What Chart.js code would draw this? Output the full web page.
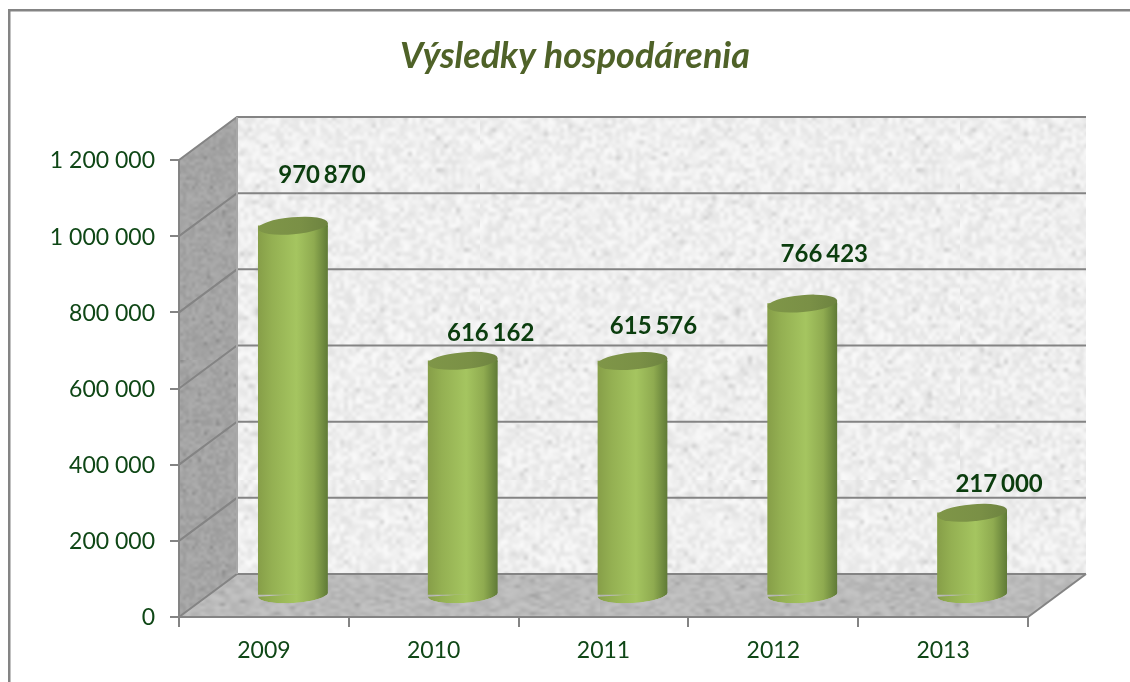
<!DOCTYPE html>
<html><head><meta charset="utf-8">
<style>html,body{margin:0;padding:0;background:#fff}canvas{display:block}</style>
<script src="https://cdn.jsdelivr.net/npm/chart.js@4"></script>
</head><body><canvas id="c" width="1130" height="682"></canvas>
<script>
const categories = ['2009','2010','2011','2012','2013'];
const profit = [970870,616162,615576,766423,217000];
const valueLabels = ['970 870','616 162','615 576','766 423','217 000'];
const yMax = 1200000;
const yStep = 200000;
const chartTitle = 'Výsledky hospodárenia';

const DEPTH_X = 58, DEPTH_Y = -43;      // 3-D depth of the plot box
const GREY = '#848484', INK = '#0f4716';
const labelNudge = [[29,-50],[28,-28],[21,-35],[22,-49],[27,-29]];
const TOP_TILT = -5*Math.PI/180, FOOT_TILT = -3.5*Math.PI/180, CAP_RY = 8.5;

// deterministic granite texture
function texture(base, amp, sx, sy, seed){
  let s = seed;
  const rnd = () => (s = (s*1664525 + 1013904223) >>> 0) / 4294967296;
  const w = 120, h = 120;
  const small = document.createElement('canvas'); small.width = w; small.height = h;
  const g = small.getContext('2d'), img = g.createImageData(w,h);
  for(let i=0;i<w*h;i++){
    let v = base + (rnd()-0.5)*amp;
    if(rnd()<0.03) v -= amp*0.9;
    img.data[i*4]=img.data[i*4+1]=img.data[i*4+2]=v; img.data[i*4+3]=255;
  }
  g.putImageData(img,0,0);
  const big = document.createElement('canvas'); big.width = w*sx; big.height = h*sy;
  const b = big.getContext('2d'); b.imageSmoothingEnabled = true; b.imageSmoothingQuality='high';
  b.drawImage(small,0,0,big.width,big.height);
  return big;
}

const box3d = {
  id:'box3d',
  afterLayout(chart){ chart.titleBlock.left += 61; chart.titleBlock.right += 61; },
  beforeDraw(chart){
    const ctx = chart.ctx, a = chart.chartArea, ys = chart.scales.y;
    ctx.save();
    ctx.fillStyle='#fff'; ctx.fillRect(0,0,chart.width,chart.height);
    ctx.fillStyle=GREY;
    ctx.fillRect(8,9,1122,2.5); ctx.fillRect(8,9,2.5,673);

    const L=a.left,R=a.right,T=a.top,B=a.bottom,dx=DEPTH_X,dy=DEPTH_Y;
    // back wall
    ctx.fillStyle = ctx.createPattern(texture(238,22,4,4,7),'repeat');
    ctx.fillRect(L+dx,T+dy,R-L,B-T);
    // side wall
    ctx.fillStyle = ctx.createPattern(texture(164,18,3,3,11),'repeat');
    ctx.beginPath();ctx.moveTo(L,T);ctx.lineTo(L+dx,T+dy);ctx.lineTo(L+dx,B+dy);ctx.lineTo(L,B);ctx.closePath();ctx.fill();
    // floor
    ctx.fillStyle = ctx.createPattern(texture(186,20,5,3,23),'repeat');
    ctx.beginPath();ctx.moveTo(L,B);ctx.lineTo(R,B);ctx.lineTo(R+dx,B+dy);ctx.lineTo(L+dx,B+dy);ctx.closePath();ctx.fill();

    // gridlines
    ctx.strokeStyle=GREY; ctx.lineWidth=2;
    ys.ticks.forEach(t=>{
      const y=ys.getPixelForValue(t.value);
      ctx.beginPath();ctx.moveTo(L,y);ctx.lineTo(L+dx,y+dy);ctx.lineTo(R+dx,y+dy);ctx.stroke();
    });
    ctx.beginPath();ctx.moveTo(R,B);ctx.lineTo(R+dx,B+dy);ctx.stroke();
    ctx.strokeStyle='#a8a8a8';
    ctx.beginPath();ctx.moveTo(L+dx,T+dy);ctx.lineTo(L+dx,B+dy);ctx.stroke();
    ctx.restore();
  },
  beforeDatasetDraw(chart,args){
    const ctx=chart.ctx;
    ctx.save();
    ctx.translate(DEPTH_X/2,DEPTH_Y/2);
    // trim each bar's square foot so it follows the tilted ellipse
    ctx.beginPath();
    args.meta.data.forEach(el=>{
      const w=el.width/2;
      ctx.moveTo(el.x-w,0);ctx.lineTo(el.x+w,0);
      ctx.ellipse(el.x,el.base,w,CAP_RY,FOOT_TILT,0,Math.PI);
      ctx.closePath();
    });
    ctx.clip();
  },
  afterDatasetDraw(chart,args){
    const ctx=chart.ctx, meta=args.meta;
    meta.data.forEach(el=>{
      const w=el.width/2, rise=w*Math.sin(-TOP_TILT);
      ctx.fillStyle=el.options.backgroundColor;
      // rounded foot
      ctx.beginPath();ctx.ellipse(el.x,el.base,w,CAP_RY,FOOT_TILT,0,Math.PI);ctx.fill();
      // body reaches the raised right end of the cap
      ctx.beginPath();ctx.moveTo(el.x,el.y);ctx.lineTo(el.x+w,el.y-rise);ctx.lineTo(el.x+w,el.y+1);ctx.closePath();ctx.fill();
      // top cap
      const g=ctx.createLinearGradient(el.x-w,0,el.x+w,0);
      g.addColorStop(0,'#7f9648');g.addColorStop(0.6,'#7a9046');g.addColorStop(1,'#6d8340');
      ctx.fillStyle=g;
      ctx.beginPath();ctx.ellipse(el.x,el.y,w,CAP_RY,TOP_TILT,0,Math.PI*2);ctx.fill();
    });
    ctx.restore();
  },
  afterDatasetsDraw(chart){
    const ctx=chart.ctx, meta=chart.getDatasetMeta(0);
    ctx.save();
    ctx.font='bold 24px Lato';ctx.fillStyle='#0b3d0e';ctx.textAlign='center';ctx.textBaseline='middle';
    ctx.wordSpacing='-2px';
    meta.data.forEach((el,i)=>{
      ctx.fillText(valueLabels[i],el.x+DEPTH_X/2+labelNudge[i][0],el.y+DEPTH_Y/2+labelNudge[i][1]);
    });
    ctx.restore();
  }
};

new Chart(document.getElementById('c'),{
  type:'bar',
  data:{labels:categories,datasets:[{
    data:profit,
    barThickness:70,
    borderWidth:0,
    backgroundColor(c){
      const x=c.chart.scales.x ? c.chart.scales.x.getPixelForValue(c.dataIndex) : NaN;
      if(!Number.isFinite(x)) return '#94b052';
      const g=c.chart.ctx.createLinearGradient(x-35,0,x+35,0);
      g.addColorStop(0,'#869e48');g.addColorStop(0.2,'#94b052');g.addColorStop(0.55,'#a5c560');
      g.addColorStop(0.8,'#8fab50');g.addColorStop(1,'#5f7a36');
      return g;
    }
  }]},
  plugins:[box3d],
  options:{
    responsive:false,animation:false,
    layout:{padding:{left:0,right:102,top:0,bottom:0}},
    plugins:{
      legend:{display:false},tooltip:{enabled:false},
      title:{display:true,text:chartTitle,color:'#4f6228',
        font:{family:'Lato',size:36,weight:'bold',style:'italic',lineHeight:1.2},
        padding:{top:34.5,bottom:82.3}}
    },
    scales:{
      x:{
        grid:{drawOnChartArea:false,color:GREY,lineWidth:2,tickLength:10,offset:true},
        border:{color:GREY,width:2},
        ticks:{color:INK,font:{family:'Lato',size:23},padding:10,maxRotation:0},
        afterFit(s){s.height=65;}
      },
      y:{
        min:0,max:yMax,
        grid:{drawOnChartArea:false,color:GREY,lineWidth:2,tickLength:9},
        border:{color:GREY,width:2},
        ticks:{stepSize:yStep,color:INK,font:{family:'Lato',size:23},padding:15,labelOffset:1,
          callback:v=>String(v).replace(/\B(?=(\d{3})+$)/g,' ')},
        afterFit(s){s.width=179;}
      }
    }
  }
});
</script></body></html>
